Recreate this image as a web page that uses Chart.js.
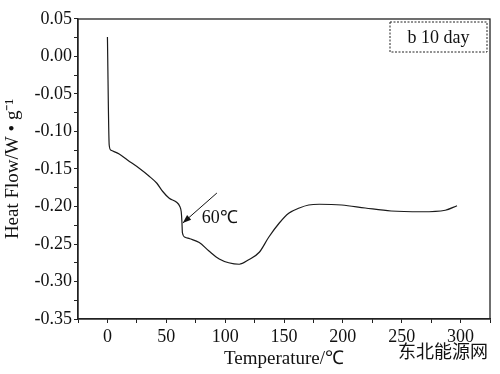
<!DOCTYPE html>
<html>
<head>
<meta charset="utf-8">
<script src="https://cdn.jsdelivr.net/npm/chart.js@4"></script>
<style>
  html, body { margin: 0; padding: 0; background: #fff; }
  #wrap { width: 500px; height: 374px; position: relative; }
</style>
</head>
<body>
<div id="wrap"><canvas id="dsc"></canvas></div>
<script>
// DSC curve
const temps = [0, 1.5, 3, 10, 17, 27, 35, 42, 47, 52.5, 58.5, 61.5, 62.7, 63.3, 63.7, 66, 70, 78, 86, 95, 103, 112, 120, 129, 137, 146, 154, 163, 171, 180, 199, 219, 241, 267, 287, 297];
const heatFlow = [0.026, -0.118, -0.125, -0.130, -0.138, -0.149, -0.159, -0.169, -0.180, -0.189, -0.194, -0.200, -0.207, -0.221, -0.235, -0.241, -0.243, -0.248, -0.259, -0.270, -0.275, -0.277, -0.271, -0.261, -0.241, -0.222, -0.209, -0.202, -0.198, -0.197, -0.198, -0.202, -0.206, -0.207, -0.205, -0.199];

const xTickLabels = [0, 50, 100, 150, 200, 250, 300];
const yTickLabels = [0.05, 0.00, -0.05, -0.10, -0.15, -0.20, -0.25, -0.30, -0.35];

const sampleLabel = 'b 10 day';
const peakLabel = '60\u2103';
const arrowFrom = { x: 93, y: -0.182 };
const arrowTo = { x: 64, y: -0.222 };

const serif = '"Liberation Serif", "Times New Roman", serif';

const points = temps.map((t, i) => ({ x: t, y: heatFlow[i] }));

const extras = {
    id: 'extras',
    afterDraw(chart) {
        const ctx = chart.ctx;
        const a = chart.chartArea;
        const xs = chart.scales.x, ys = chart.scales.y;
        ctx.save();
        // frame
        ctx.strokeStyle = '#222';
        ctx.lineWidth = 1.3;
        ctx.strokeRect(a.left, a.top, a.right - a.left, a.bottom - a.top);

        // sample box
        const bx = a.right - 100, by = a.top + 3, bw = 97, bh = 30;
        ctx.setLineDash([2, 1.5]);
        ctx.lineWidth = 1;
        ctx.strokeRect(bx, by, bw, bh);
        ctx.setLineDash([]);
        ctx.fillStyle = '#111';
        ctx.font = '18px ' + serif;
        ctx.textAlign = 'center';
        ctx.textBaseline = 'middle';
        ctx.fillText(sampleLabel, bx + bw / 2, by + bh / 2 + 1);

        // arrow to the 60 C step
        const x1 = xs.getPixelForValue(arrowFrom.x), y1 = ys.getPixelForValue(arrowFrom.y);
        const x2 = xs.getPixelForValue(arrowTo.x), y2 = ys.getPixelForValue(arrowTo.y);
        ctx.strokeStyle = '#111';
        ctx.lineWidth = 1;
        ctx.beginPath();
        ctx.moveTo(x1, y1);
        ctx.lineTo(x2, y2);
        ctx.stroke();
        const ang = Math.atan2(y2 - y1, x2 - x1);
        const hl = 9, hw = 0.35;
        ctx.beginPath();
        ctx.moveTo(x2, y2);
        ctx.lineTo(x2 - hl * Math.cos(ang - hw), y2 - hl * Math.sin(ang - hw));
        ctx.lineTo(x2 - hl * Math.cos(ang + hw), y2 - hl * Math.sin(ang + hw));
        ctx.closePath();
        ctx.fill();
        ctx.font = '18px ' + serif;
        ctx.textAlign = 'left';
        ctx.fillText(peakLabel, x2 + 19, y2 - 5);

        // site mark
        ctx.font = '18px "Noto Sans CJK SC", sans-serif';
        ctx.textAlign = 'right';
        ctx.fillText('东北能源网', 488, 351);
        ctx.restore();
    }
};

new Chart(document.getElementById('dsc'), {
    type: 'line',
    data: {
        datasets: [{
            data: points,
            borderColor: '#1a1a1a',
            borderWidth: 1.2,
            pointRadius: 0,
            fill: false,
            cubicInterpolationMode: 'monotone'
        }]
    },
    options: {
        responsive: true,
        maintainAspectRatio: false,
        animation: false,
        layout: { padding: { top: 19, right: 10, left: 0, bottom: 0 } },
        plugins: { legend: { display: false }, tooltip: { enabled: false } },
        scales: {
            x: {
                type: 'linear',
                min: -25,
                max: 325,
                afterFit(scale) { scale.height = 55; },
                afterBuildTicks(scale) {
                    const t = [];
                    for (let v = -25; v <= 325; v += 25) t.push({ value: v });
                    scale.ticks = t;
                },
                ticks: {
                    autoSkip: false,
                    maxRotation: 0,
                    padding: 3,
                    color: '#111',
                    font: { family: serif, size: 18 },
                    callback: v => xTickLabels.includes(v) ? String(v) : ''
                },
                grid: { display: true, drawOnChartArea: false, drawTicks: true, tickLength: 4, color: '#222' },
                border: { display: true, color: '#222', width: 1.3 },
                title: {
                    display: true,
                    text: 'Temperature/\u2103',
                    color: '#111',
                    font: { family: serif, size: 19 },
                    padding: { top: 0, bottom: 4 }
                }
            },
            y: {
                min: -0.35,
                max: 0.05,
                afterFit(scale) { scale.width = 78; },
                afterBuildTicks(scale) {
                    const t = [];
                    for (let i = 0; i <= 16; i++) t.push({ value: -0.35 + i * 0.025 });
                    scale.ticks = t;
                },
                ticks: {
                    autoSkip: false,
                    padding: 2,
                    color: '#111',
                    font: { family: serif, size: 18 },
                    callback: v => {
                        const hit = yTickLabels.find(y => Math.abs(y - v) < 1e-6);
                        return hit === undefined ? '' : hit.toFixed(2);
                    }
                },
                grid: { display: true, drawOnChartArea: false, drawTicks: true, tickLength: 4, color: '#222' },
                border: { display: true, color: '#222', width: 1.3 },
                title: {
                    display: true,
                    text: 'Heat Flow/W \u2022 g\u207B\u00B9',
                    color: '#111',
                    font: { family: serif, size: 19 },
                    padding: { top: 2, bottom: 0 }
                }
            }
        }
    },
    plugins: [extras]
});
</script>
</body>
</html>
